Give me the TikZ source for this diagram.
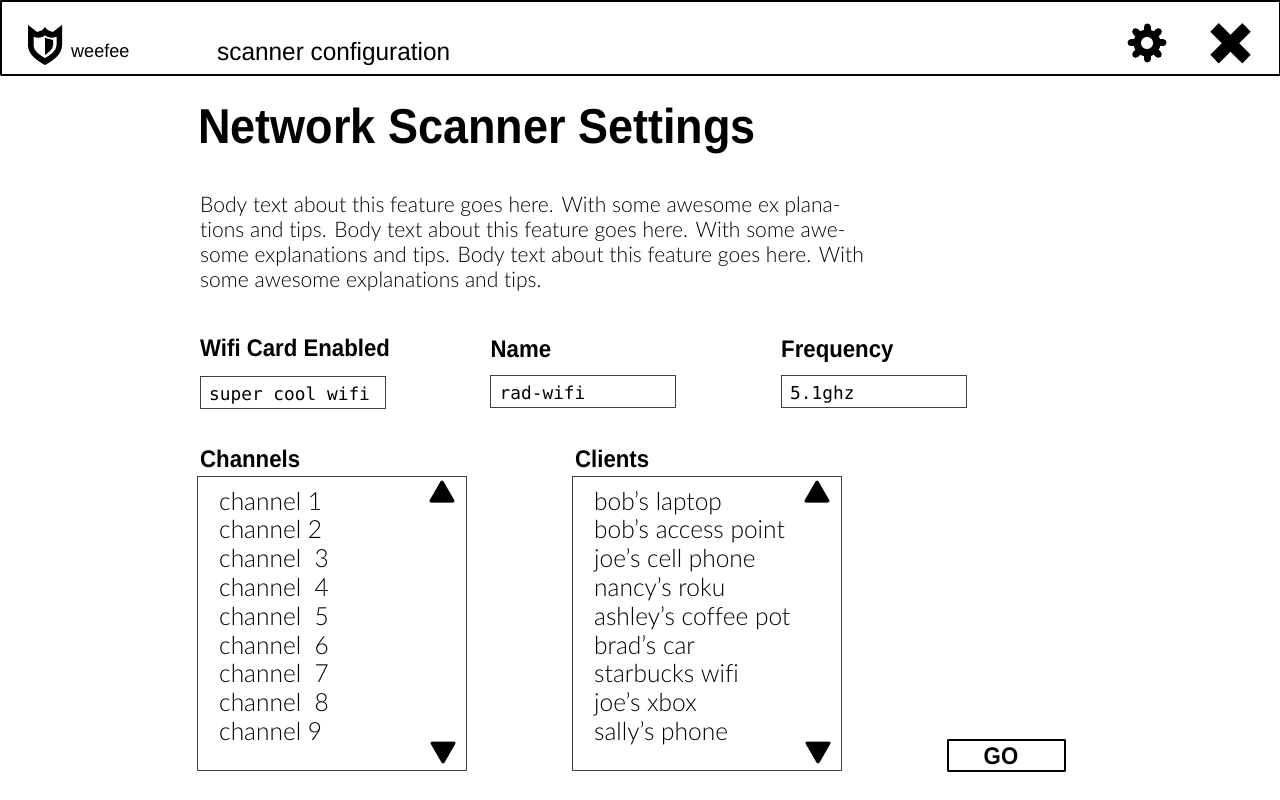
\documentclass[tikz,border=0pt]{standalone}
\usepackage{fontspec}
\setmainfont{Liberation Sans}
\newfontfamily\plainfont[FakeStretch=0.975]{Liberation Sans}
\newfontfamily\strongfont[FakeStretch=0.925]{Liberation Sans Bold}
\newfontfamily\headfont[FakeStretch=0.918]{Liberation Sans Bold}
\newfontfamily\lightfont[FakeStretch=0.98,Ligatures=NoCommon]{Lato Light}
\newfontfamily\codefont{DejaVu Sans Mono}
\usetikzlibrary{positioning}

\tikzset{
  label/.style={anchor=base west, inner sep=0pt, font=\fontsize{24}{24}\strongfont},
  field/.style={draw=black!75, line width=1.2pt, minimum width=185pt, minimum height=32pt, inner sep=0pt, anchor=north west},
  fieldtext/.style={anchor=base west, inner sep=0pt, font=\fontsize{17.8}{18}\codefont},
  listbox/.style={draw=black!75, line width=1.2pt, minimum width=269pt, minimum height=294pt, inner sep=0pt, anchor=north west},
  item/.style={anchor=base west, inner sep=0pt, font=\fontsize{25}{25}\lightfont},
}

\begin{document}
\begin{tikzpicture}[x=1pt, y=-1pt, line join=round]
  \useasboundingbox (0,0) rectangle (1280,800);
  \fill[white] (0,0) rectangle (1280,800);

  % top bar
  \node[draw, line width=2pt, minimum width=1279pt, minimum height=74pt, inner sep=0pt, anchor=north west] (bar) at (0,0) {};
  \fill (28,25) -- (37,32) .. controls (40,32) and (43,30) .. (45,27) .. controls (47,30) and (50,32) .. (53,32) -- (62,25) -- (62,45) .. controls (62,54) and (54,60) .. (45,65) .. controls (36,60) and (28,54) .. (28,45) -- cycle;
  \fill[white] (33.5,37) .. controls (38,38.5) and (43,37.5) .. (45,35.5) .. controls (47,37.5) and (52,38.5) .. (56.5,37) -- (56.5,45) .. controls (56.5,51) and (50,55) .. (45,58) .. controls (40,55) and (33.5,51) .. (33.5,45) -- cycle;
  \fill (45,38) -- (53,40) -- (53,45) .. controls (53,49) and (49,52) .. (45,55) -- cycle;
  \node[anchor=base west, inner sep=0pt, font=\fontsize{18.5}{19}\plainfont] (brand) at (71,58) {weefee};
  \node[anchor=base west, inner sep=0pt, font=\fontsize{25}{25}\plainfont] (page) at (217,60) {scanner configuration};

  % gear and close
  \foreach \a in {0,45,...,315}
    \draw[line width=7pt, line cap=round] (1147,43) -- ++(\a:16);
  \fill (1147,43) circle (13.5);
  \fill[white] (1147,43) circle (6);
  \draw[line width=12pt] (1214.5,27.5) -- (1246.5,59);
  \draw[line width=12pt] (1246.5,27.5) -- (1214.5,59);

  % heading
  \node[anchor=base west, inner sep=0pt, font=\fontsize{49}{49}\headfont] (title) at (198,143) {Network Scanner Settings};
  \node[anchor=base west, inner sep=0pt, align=left, font=\fontsize{21.5}{25}\lightfont] (body) at (200,287) {Body text about this feature goes here. With some awesome ex plana-\\tions and tips. Body text about this feature goes here. With some awe-\\some explanations and tips. Body text about this feature goes here. With\\some awesome explanations and tips.};

  % fields
  \node[label] (cardlabel) at (200,356) {Wifi Card Enabled};
  \node[label] (namelabel) at (490.5,357.5) {Name};
  \node[label] (freqlabel) at (781,357.5) {Frequency};
  \node[field] (cardbox) at (199.5,376) {};
  \node[field] (namebox) at (490,375) {};
  \node[field] (freqbox) at (780.5,375) {};
  \node[fieldtext] (cardtext) at (209,400) {super cool wifi};
  \node[fieldtext] (nametext) at (499.5,399) {rad-wifi};
  \node[fieldtext] (freqtext) at (790,399) {5.1ghz};

  % lists
  \node[label] (chanlabel) at (200,467) {Channels};
  \node[label] (clientlabel) at (575,467) {Clients};
  \node[listbox] (chanbox) at (197,476) {};
  \node[listbox] (clientbox) at (572,476) {};
  \foreach \n/\t in {0/channel 1,1/channel 2,2/channel~ 3,3/channel~ 4,4/channel~ 5,5/channel~ 6,6/channel~ 7,7/channel~ 8,8/channel 9}
    \node[item] (chan\n) at (219,510+29*\n-0.2*\n) {\t};
  \foreach \n/\t in {0/bob’s laptop,1/bob’s access point,2/joe’s cell phone,3/nancy’s roku,4/ashley’s coffee pot,5/brad’s car,6/starbucks wifi,7/joe’s xbox,8/sally’s phone}
    \node[item] (client\n) at (594,510+29*\n-0.2*\n) {\t};

  % scroll arrows
  \foreach \x in {442,817} {
    \fill[draw, line width=3pt] (\x,482) -- (\x+11,501) -- (\x-11,501) -- cycle;
    \fill[draw, line width=3pt] (\x+1,762) -- (\x+12,743) -- (\x-10,743) -- cycle;
  }

  % button
  \node[draw, line width=2pt, minimum width=117pt, minimum height=31pt, inner sep=0pt, anchor=north west] (gobox) at (947,738.5) {};
  \node[anchor=base, inner sep=0pt, font=\fontsize{24}{24}\strongfont] (gotext) at (1001,764) {GO};
\end{tikzpicture}
\end{document}
